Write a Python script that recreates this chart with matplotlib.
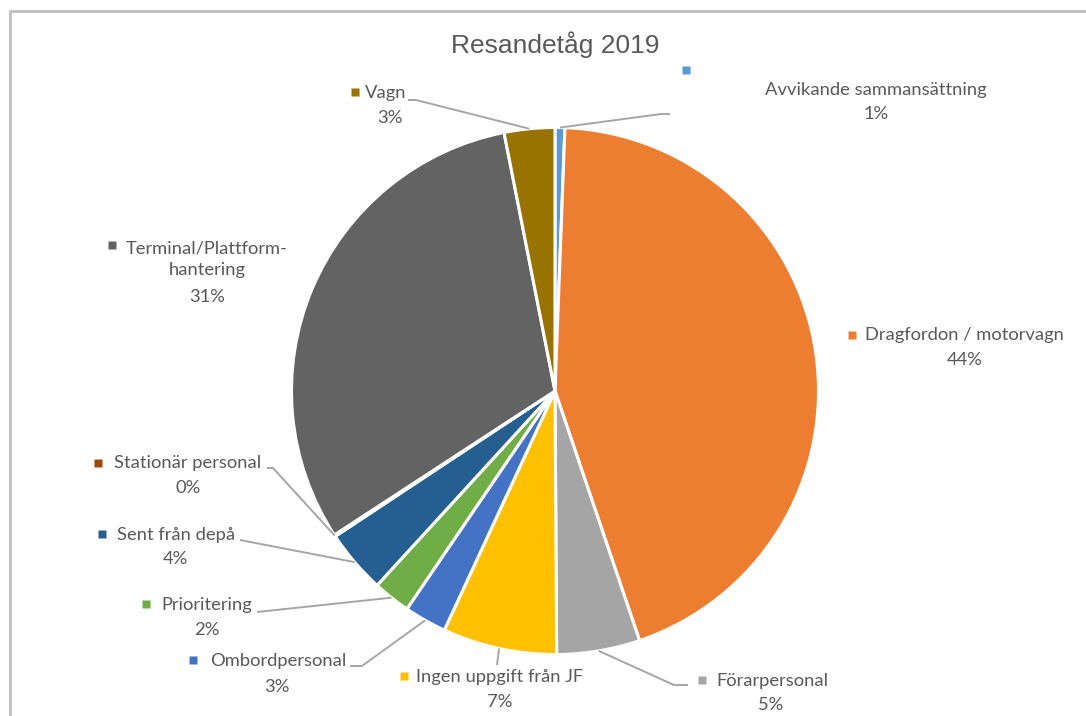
import matplotlib
matplotlib.use("Agg")
import numpy as np
import matplotlib.pyplot as plt

# Orsaker till förseningar, resandetåg 2019 (andel i procent)
categories = [
    "Avvikande sammansättning",
    "Dragfordon / motorvagn",
    "Förarpersonal",
    "Ingen uppgift från JF",
    "Ombordpersonal",
    "Prioritering",
    "Sent från depå",
    "Stationär personal",
    "Terminal/Plattform-\nhantering",
    "Vagn",
]
shares = [0.6, 44.2, 5.1, 7.0, 2.6, 2.3, 3.9, 0.1, 31.1, 3.1]
colors = ["#5B9BD5", "#ED7D31", "#A5A5A5", "#FFC000", "#4472C4",
          "#70AD47", "#255E91", "#9E480E", "#636363", "#997300"]

W, H = 1086, 716
TXT = "#595959"
LEAD = "#A6A6A6"
label_font = ["Lato", "DejaVu Sans"]


def up(y):
    # image rows count downwards, the axes count upwards
    return H - y


fig = plt.figure(figsize=(W / 100, H / 100), dpi=100)
ax = fig.add_axes([0, 0, 1, 1])

cx, cy, r = 555, up(391), 263.5
wedges, _ = ax.pie(shares, colors=colors, startangle=90, counterclock=False,
                   center=(cx, cy), radius=r,
                   wedgeprops=dict(edgecolor="white", linewidth=2.2))
ax.set_xlim(0, W)
ax.set_ylim(0, H)
ax.set_aspect("equal")
ax.axis("off")

# outer chart frame
ax.plot([10, 10, W], [0, up(11), up(11)], color="#BFBFBF", lw=2,
        clip_on=False, solid_joinstyle="miter")

ax.text(555, up(45), "Resandetåg 2019", ha="center", va="center",
        fontsize=19, color=TXT,
        family=["Liberation Sans Narrow", "Liberation Sans", "DejaVu Sans"])

# label placement: marker, name centre, percent centre, leader points
layout = {
    0: dict(mark=(686, 70), name=(876, 90), pct=(876, 114),
            lead=[(670, 114), (661, 114)]),
    1: dict(mark=(852, 335), name=(964, 335), pct=(965, 360), lead=None),
    2: dict(mark=(702, 680), name=(772, 681), pct=(771, 705),
            lead=[(688, 685), (674, 685)]),
    3: dict(mark=(404, 676), name=(500, 677), pct=(500, 702),
            lead=[(497, 665)]),
    4: dict(mark=(193, 660), name=(278, 661), pct=(277, 687),
            lead=[(350, 666), (362, 666)]),
    5: dict(mark=(146, 604), name=(207, 605), pct=(207, 630),
            lead=[(257, 612)]),
    6: dict(mark=(102, 534), name=(176, 535), pct=(175, 559),
            lead=[(240, 540)]),
    7: dict(mark=(98, 463), name=(188, 463), pct=(188, 488),
            lead=[(267, 468), (273, 468)]),
    8: dict(mark=(112, 245), name=(207, 259), pct=(207, 297), lead=None),
    9: dict(mark=(355, 92), name=(386, 93), pct=(390, 118),
            lead=[(408, 100), (416, 100)]),
}

total = sum(shares)
for i, w in enumerate(wedges):
    spec = layout[i]
    mid = np.deg2rad((w.theta1 + w.theta2) / 2)
    ax_pt = (cx + r * np.cos(mid), cy + r * np.sin(mid))
    if spec["lead"]:
        pts = [(x, up(y)) for x, y in spec["lead"]] + [ax_pt]
        xs, ys = zip(*pts)
        ax.plot(xs, ys, color=LEAD, lw=1.4, solid_capstyle="butt")
    mx, my = spec["mark"]
    ax.plot(mx, up(my), marker="s", ms=5.5, color=colors[i], mec="none")
    nx_, ny_ = spec["name"]
    ax.text(nx_, up(ny_), categories[i], ha="center", va="center",
            fontsize=13.2, color=TXT, family=label_font,
            linespacing=1.45)
    px, py = spec["pct"]
    ax.text(px, up(py), f"{shares[i] / total * 100:.0f}%", ha="center",
            va="center", fontsize=13.2, color=TXT, family=label_font)

fig.savefig("out.png", dpi=100, facecolor="white")
